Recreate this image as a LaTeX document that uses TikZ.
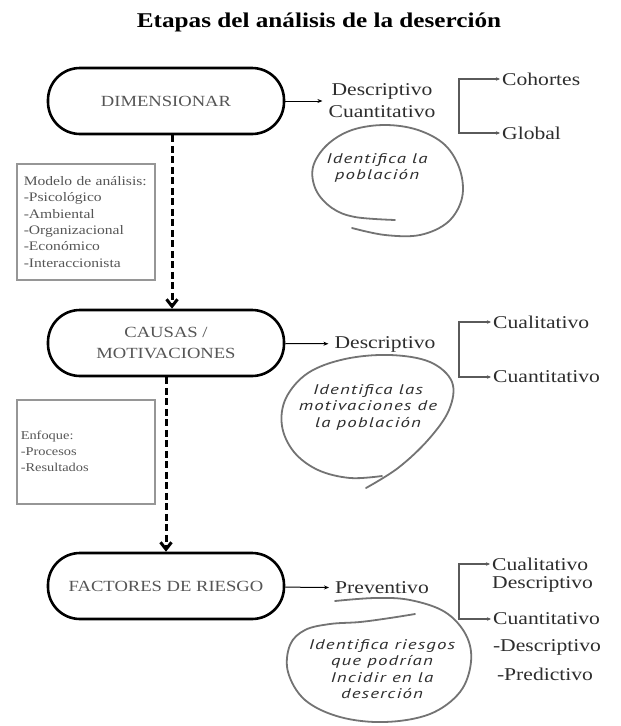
\documentclass[tikz,border=0pt]{standalone}
\usepackage{fontspec}
\setmainfont{Liberation Serif}[FakeStretch=1.2]
\newfontfamily\handfont{PT Sans}[FakeStretch=1.35,LetterSpace=8]
\usepackage{tikz}
\usetikzlibrary{positioning,arrows.meta}
\definecolor{inkgray}{RGB}{85,85,85}
\definecolor{txtdark}{RGB}{45,45,45}
\definecolor{sidegray}{RGB}{150,150,150}
\definecolor{loopgray}{RGB}{115,115,115}
\definecolor{brkgray}{RGB}{90,90,90}
\newcommand{\fsz}[2]{\fontsize{#1}{#2}\selectfont}
\tikzset{
  stage/.style  ={rectangle, rounded corners=32pt, draw=black, line width=2.6pt,
                  minimum width=236pt, minimum height=66pt, align=center, text=inkgray,
                  font=\fsz{15.5}{21}},
  side/.style   ={rectangle, draw=sidegray, line width=1.5pt, anchor=north west, align=left,
                  minimum width=138pt, text=inkgray},
  kind/.style   ={align=center, text=txtdark, font=\fsz{18}{22}, inner sep=2pt},
  leaf/.style   ={anchor=west, text=txtdark, font=\fsz{18}{22}, inner sep=2pt},
  note/.style   ={align=center, text=txtdark, font=\handfont\itshape\fsz{14}{16.5}},
  loopline/.style={draw=loopgray, line width=1.8pt, line cap=round},
  dashflow/.style={-{Straight Barb[length=7pt,width=11pt]}, line width=3pt,
                  dash pattern=on 7pt off 3.5pt},
  flow/.style   ={-{Stealth[length=5pt,width=4pt]}, line width=1pt, shorten >=4pt},
  brk/.style    ={{Stealth[length=4pt,width=3.5pt]}-{Stealth[length=4pt,width=3.5pt]},
                  line width=1.3pt, draw=brkgray},
}
\begin{document}
\begin{tikzpicture}[x=1pt,y=-1pt]
\useasboundingbox (0,0) rectangle (621,726);
\node[font=\bfseries\fsz{21}{25}] (title) at (319,22) {Etapas del análisis de la deserción};

% the three stages down the middle
\node[stage] (dim) at (166,101) {DIMENSIONAR};
\node[stage] (cau) at (166,343) {CAUSAS /\\ MOTIVACIONES};
\node[stage] (fac) at (166,586) {FACTORES DE RIESGO};
\draw[dashflow] ([xshift=6pt]dim.south) -- ([xshift=6pt]cau.north);
\draw[dashflow] (cau.south) -- (fac.north);

\node[side, minimum height=116pt, text width=124pt, inner xsep=7pt, font=\fsz{13}{16.4}] (mod) at (16,163)
  {Modelo de análisis:\\ -Psicológico\\ -Ambiental\\ -Organizacional\\ -Económico\\ -Interaccionista};
\node[side, minimum height=104pt, text width=130pt, inner xsep=4pt, font=\fsz{12}{16}] (enf) at (16,399)
  {Enfoque:\\ -Procesos\\ -Resultados};

% what each stage gives
\node[kind] (d1) at (382,101) {Descriptivo\\ Cuantitativo};
\node[kind] (d2) at (385,344) {Descriptivo};
\node[kind] (d3) at (382,588) {Preventivo};
\foreach \a/\b in {dim/d1,cau/d2,fac/d3} \draw[flow] (\a) -- (\b);

\node[leaf] (coh) at (500,79) {Cohortes};
\node[leaf] (glo) at (500,133) {Global};
\node[leaf] (cl2) at (491,322) {Cualitativo};
\node[leaf] (cn2) at (491,377) {Cuantitativo};
\node[leaf] (cl3) at (490,564) {Cualitativo};
\node[leaf] (ds3) at (490,584) {Descriptivo};
\node[leaf] (cn3) at (491,619) {Cuantitativo};
\node[kind] (dd3) at (547,647) {-Descriptivo};
\node[kind] (pr3) at (545,674) {-Predictivo};
\coordinate (kx) at (459,0);
\foreach \u/\v in {coh/glo,cl2/cn2,cl3/cn3}
  \draw[brk] (\u.west) -| (kx |- \v.west) -- (\v.west);

% hand drawn loops round the notes
\node[note] (n1) at (377,168) {Identifica la\\ población};
\node[note] (n2) at (368,407) {Identifica las\\ motivaciones de\\ la población};
\node[note] (n3) at (382,669) {Identifica riesgos\\ que podrían\\ Incidir en la\\ deserción};
\draw[loopline] plot[smooth, tension=0.6] coordinates {(352,228) (385,235) (420,235) (448,222) (462,198)
  (460,170) (445,145) (418,130) (385,125) (352,130) (327,145) (313,167) (316,190) (332,208) (355,217) (395,220)};
\draw[loopline] plot[smooth, tension=0.6] coordinates {(366,488) (398,468) (428,440) (449,410) (452,382)
  (430,362) (390,355) (345,359) (308,373) (286,398) (282,426) (294,452) (318,470) (350,478) (382,476)};
\draw[loopline] plot[smooth, tension=0.6] coordinates {(335,601) (375,598) (410,600) (445,612) (466,635)
  (471,662) (460,692) (430,714) (385,722) (340,717) (305,700) (288,672) (290,645) (305,630) (330,624)
  (360,622) (390,618) (415,614)};
\end{tikzpicture}
\end{document}
